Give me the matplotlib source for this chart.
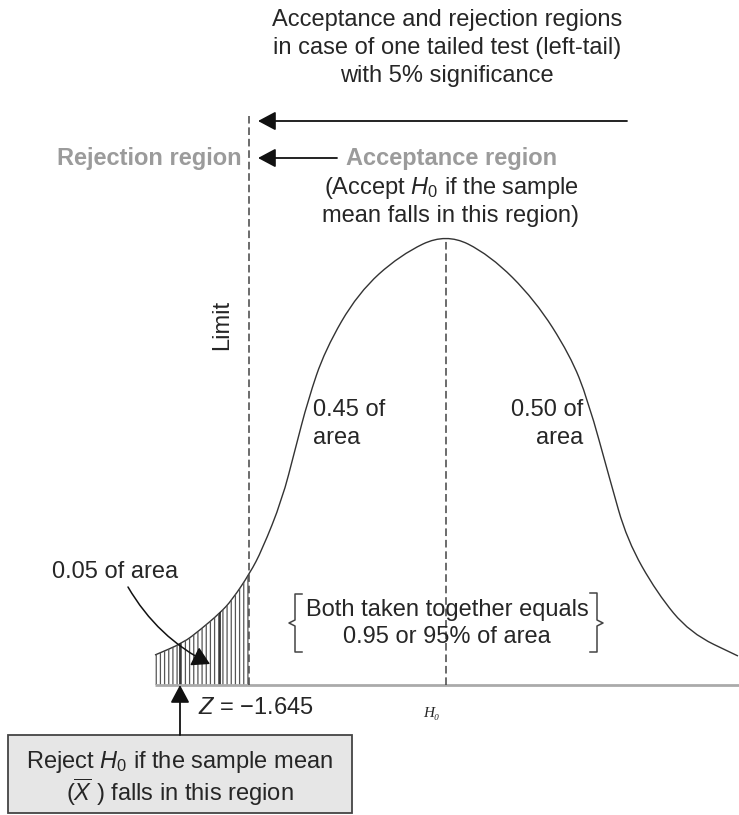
import matplotlib.pyplot as plt
from matplotlib.path import Path
from matplotlib.patches import PathPatch, Rectangle

plt.rcParams['font.family'] = ['Liberation Sans', 'DejaVu Sans']
plt.rcParams['mathtext.fontset'] = 'custom'
plt.rcParams['mathtext.rm'] = 'Liberation Sans'
plt.rcParams['mathtext.it'] = 'Liberation Sans:italic'
plt.rcParams['hatch.linewidth'] = 0.9

# bell curve: x position and height above the base line
curve_x = [155, 183, 200, 220, 232, 250, 262, 282, 295, 308, 325, 358, 400,
           446, 490, 535, 570, 588, 610, 627, 657, 690, 738]
curve_h = [30, 42, 55, 72, 85, 112, 135, 185, 235, 285, 335, 392, 430,
           452, 430, 385, 330, 285, 205, 145, 92, 52, 29]

mean_x = 446      # H0
limit_x = 249     # Z = -1.645
dark_lines = [180, 220]

title_lines = ['Acceptance and rejection regions',
               'in case of one tailed test (left-tail)',
               'with 5% significance']

TXT = '#262626'
GRAY = '#9b9b9b'
FS = 17


def smooth_path(xs, ys):
    # quadratic bezier through the midpoints, the read points act as controls
    verts = [(xs[0], ys[0]), ((xs[0] + xs[1]) / 2, (ys[0] + ys[1]) / 2)]
    codes = [Path.MOVETO, Path.LINETO]
    for i in range(1, len(xs) - 1):
        verts += [(xs[i], ys[i]), ((xs[i] + xs[i + 1]) / 2, (ys[i] + ys[i + 1]) / 2)]
        codes += [Path.CURVE3, Path.CURVE3]
    verts.append((xs[-1], ys[-1]))
    codes.append(Path.LINETO)
    return verts, codes


fig = plt.figure(figsize=(7.39, 8.15), dpi=100)
ax = fig.add_axes([0, 0, 1, 1])
ax.set_xlim(0, 739)
ax.set_ylim(-130, 685)
ax.axis('off')

verts, codes = smooth_path(curve_x, curve_h)
ax.add_patch(PathPatch(Path(verts, codes), fill=False, edgecolor='#333333', lw=1.0))

# area under the curve, used to clip the hatching of the rejection region
area = PathPatch(Path(verts + [(curve_x[-1], 0), (curve_x[0], 0), (0, 0)],
                      codes + [Path.LINETO, Path.LINETO, Path.CLOSEPOLY]),
                 facecolor='none', edgecolor='none')
ax.add_patch(area)
hatch = Rectangle((curve_x[0], 0), limit_x - curve_x[0], 500, facecolor='none',
                  edgecolor='#555555', lw=0, hatch='||||')
ax.add_patch(hatch)
hatch.set_clip_path(area)
for x in dark_lines:
    ln, = ax.plot([x, x], [0, 500], color='#111111', lw=1.1)
    ln.set_clip_path(area)

# base line and dashed verticals
ax.plot([curve_x[0], 739], [0, 0], color='#aaaaaa', lw=2, solid_capstyle='butt')
ax.plot([limit_x, limit_x], [0, 569], color='#444444', lw=1.1, dashes=(5, 2.5))
ax.plot([mean_x, mean_x], [0, 447], color='#444444', lw=1.1, dashes=(5, 2.5))

# title
for i, line in enumerate(title_lines):
    ax.text(447, 665 - 28 * i, line, ha='center', va='center', fontsize=FS, color=TXT)

# region arrows
arr = dict(arrowstyle='-|>,head_length=0.6,head_width=0.32', color='#111111',
           lw=1.3, mutation_scale=18, shrinkA=0, shrinkB=0)
ax.annotate('', xy=(258, 564), xytext=(627, 564), arrowprops=arr)
ax.annotate('', xy=(258, 527), xytext=(337, 527), arrowprops=arr)
ax.text(242, 527, 'Rejection region', ha='right', va='center', fontsize=FS,
        fontweight='bold', color=GRAY)
ax.text(346, 527, 'Acceptance region', ha='left', va='center', fontsize=FS,
        fontweight='bold', color=GRAY)
ax.text(451, 497, r'(Accept $H_0$ if the sample', ha='center', va='center',
        fontsize=FS, color=TXT)
ax.text(451, 469, 'mean falls in this region)', ha='center', va='center',
        fontsize=FS, color=TXT)
ax.text(222, 360, 'Limit', rotation=90, ha='center', va='center', fontsize=FS, color=TXT)

# area labels
ax.text(313, 275, '0.45 of', ha='left', va='center', fontsize=FS, color=TXT)
ax.text(313, 247, 'area', ha='left', va='center', fontsize=FS, color=TXT)
ax.text(583, 275, '0.50 of', ha='right', va='center', fontsize=FS, color=TXT)
ax.text(583, 247, 'area', ha='right', va='center', fontsize=FS, color=TXT)
ax.text(52, 113, '0.05 of area', ha='left', va='center', fontsize=FS, color=TXT)
ax.annotate('', xy=(210, 21), xytext=(128, 98),
            arrowprops=dict(arrowstyle='-|>,head_length=0.6,head_width=0.35',
                            connectionstyle='arc3,rad=0.15', color='#111111',
                            lw=1.1, mutation_scale=18, shrinkA=0, shrinkB=0))

# braces
ax.text(447, 75, 'Both taken together equals', ha='center', va='center',
        fontsize=FS, color=TXT)
ax.text(447, 48, '0.95 or 95% of area', ha='center', va='center', fontsize=FS, color=TXT)
ax.plot([302, 295, 295, 289, 295, 295, 302], [91, 91, 65, 62, 59, 33, 33],
        color='#444444', lw=1.1)
ax.plot([590, 597, 597, 603, 597, 597, 590], [92, 92, 65, 62, 59, 33, 33],
        color='#444444', lw=1.1)

# axis labels
ax.text(198, -23, r'$Z$ = −1.645', ha='left', va='center', fontsize=FS, color=TXT)
ax.text(431, -29, 'H₀', ha='center', va='center', fontsize=11, style='italic',
        family=['Liberation Serif', 'DejaVu Serif'], color=TXT)

# reject box
ax.add_patch(Rectangle((8, -128), 344, 78, facecolor='#e6e6e6', edgecolor='#444444', lw=1.3))
ax.annotate('', xy=(180, 0), xytext=(180, -50), arrowprops=arr)
ax.text(180, -77, r'Reject $H_0$ if the sample mean', ha='center', va='center',
        fontsize=FS, color=TXT)
ax.text(180, -107, r'($\overline{X}$ ) falls in this region', ha='center', va='center',
        fontsize=FS, color=TXT)

fig.savefig('out.png', dpi=100)
